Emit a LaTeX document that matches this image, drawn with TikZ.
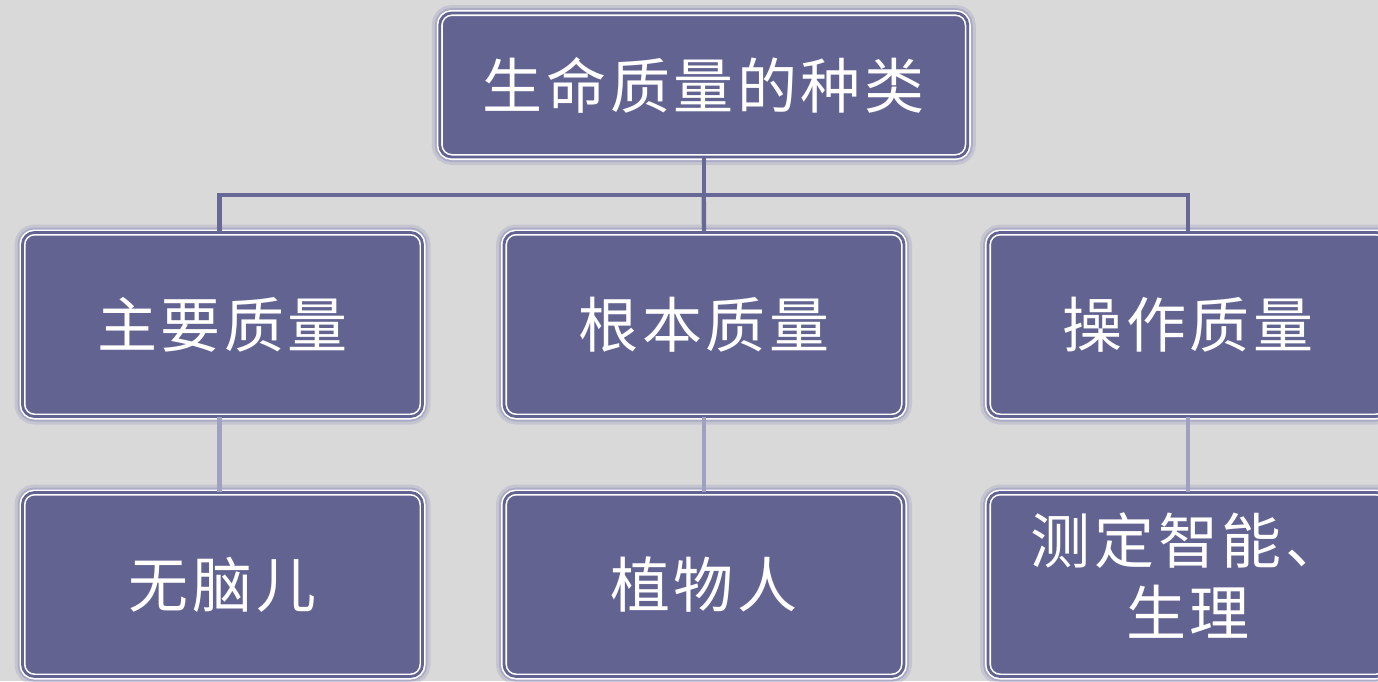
\documentclass[tikz,border=0pt]{standalone}
\usepackage{fontspec}
\newfontfamily\cjk[LetterSpace=6]{Noto Sans CJK SC}
\usetikzlibrary{positioning}

\definecolor{boxfill}{RGB}{99,99,146}
\definecolor{boxglow}{RGB}{140,140,185}
\definecolor{linkdark}{RGB}{104,104,150}
\definecolor{linklight}{RGB}{160,160,192}
\definecolor{paper}{RGB}{217,217,217}

\begin{document}
\begin{tikzpicture}[x=0.5pt, y=-0.5pt,
every node/.style={rectangle, rounded corners=6pt, inner sep=0pt, align=center,
        text=white, font=\cjk\fontsize{30}{35}\selectfont},
kind/.style={fill=boxfill, draw=white, line width=0.8pt, double=boxfill, double distance=1.4pt,
        preaction={draw=boxglow, line width=5pt, opacity=0.45},
        preaction={draw=boxglow, line width=8pt, opacity=0.25}},
rootbox/.style={kind, minimum width=264pt, minimum height=72pt},
midbox/.style={kind, minimum width=200pt, minimum height=92pt},
link/.style={draw=linkdark, line width=2.2pt},
sublink/.style={draw=linklight, line width=2.2pt}
]
  \useasboundingbox (0,0) rectangle (1378,681);
  \clip (0,0) rectangle (1378,681);
  \fill[paper] (0,0) rectangle (1378,681);

  \coordinate (bus) at (703.75,195);

  \node[rootbox] (kinds) at (703.75,85) {生命质量的种类};

  \node[midbox] (main) at (222.5,324.5) {主要质量};
  \node[midbox] (base) at (704,324.5) {根本质量};
  \node[midbox] (oper) at (1188,324.5) {操作质量};

  \node[midbox] (anen) at (222.5,584.5) {无脑儿};
  \node[midbox] (vege) at (704,584.5) {植物人};
  \node[midbox] (test) at (1188,584.5)
    {\raisebox{3.5pt}{\begin{tabular}{@{}c@{}}测定智能、\\生理\end{tabular}}};

  % tree connectors
  \draw[link] (kinds.south) -- (bus);
  \draw[link] (bus) -| ([xshift=-1.5pt]main.north);
  \draw[link] (bus) -- (base.north);
  \draw[link] (bus) -| (oper.north);

  \draw[sublink] ([xshift=-1.5pt]main.south) -- ([xshift=-1.5pt]anen.north);
  \draw[sublink] (base.south) -- (vege.north);
  \draw[sublink] (oper.south) -- (test.north);
\end{tikzpicture}
\end{document}
